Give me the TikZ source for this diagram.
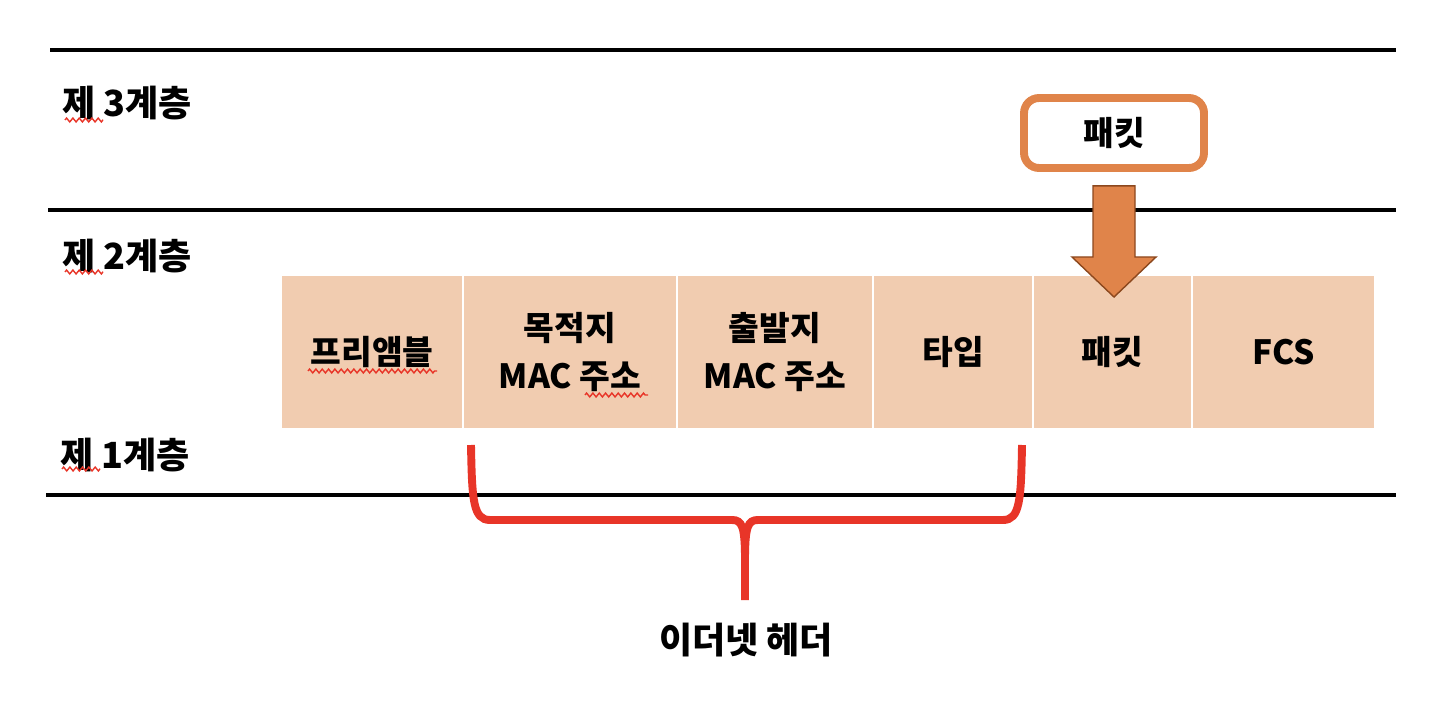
\documentclass[tikz,border=0pt]{standalone}
\definecolor{cellpeach}{RGB}{241, 204, 176}
\definecolor{pktorange}{RGB}{224, 132, 74}
\definecolor{arrowbrown}{RGB}{140, 72, 30}
\definecolor{bracered}{RGB}{232, 53, 40}
\usepackage{fontspec}
\setmainfont{Noto Sans CJK KR}[BoldFont={Noto Sans CJK KR Black}]
\usepackage{tikz}
\usetikzlibrary{calc, positioning, decorations.pathmorphing}
\tikzset{
	layerline/.style={line width=2.8pt},
	layertext/.style={anchor=west, font=\bfseries\fontsize{20.5}{24}\selectfont},
	celltext/.style={align=center, font=\bfseries\fontsize{19}{27}\selectfont},
	spellmark/.style={draw=bracered, line width=0.8pt, decorate,
		decoration={zigzag, amplitude=1.1pt, segment length=3.6pt}},
}

\begin{document}
\begin{tikzpicture}[x=0.02cm, y=-0.02cm]
			\useasboundingbox (0,0) rectangle (1452,712);
			\draw[layerline] (50,50) -- (1396,50);
			\draw[layerline] (48,210) -- (1396,210);
			\draw[layerline] (46,495) -- (1396,495);
			
			\node[layertext] (lthree) at (56,103) {제 3계층};
			\node[layertext] (ltwo) at (56,256) {제 2계층};
			\node[layertext] (lone) at (54,455) {제 1계층};
			
			\foreach \l/\r/\t/\n in {282/462/프리앰블/pre, 464/676/{목적지\\MAC 주소}/dst,
				678/872/{출발지\\MAC 주소}/src, 874/1032/타입/typ,
				1034/1191/패킷/pay, 1193/1374/FCS/fcs}{
				\fill[cellpeach] (\l,276) rectangle (\r,428);
				\node[celltext] (\n) at ({(\l+\r)/2},352) {\t};
			}
			
			\node[draw=pktorange, line width=4.5pt, rounded corners=0.3cm, fill=white,
				minimum width=3.6cm, minimum height=1.4cm, celltext] (pkt) at (1114,133) {패킷};
			
			\coordinate (atop) at ($(pkt.south)+(0,14)$);
			\coordinate (atip) at (1114,297);
			\filldraw[fill=pktorange, draw=arrowbrown, line width=0.8pt]
				($(atop)+(-21,0)$) -- ($(atop)+(21,0)$) -- ($(atip)+(21,-40)$) -- ($(atip)+(42,-40)$)
				-- (atip) -- ($(atip)+(-42,-40)$) -- ($(atip)+(-21,-40)$) -- cycle;
			
			\coordinate (hl) at (471,445);
			\coordinate (hr) at (1022,445);
			\coordinate (hm) at (745,600);
			\node[celltext, font=\bfseries\fontsize{20.5}{24}\selectfont] (eth) at (746,640) {이더넷 헤더};
			\draw[bracered, line width=4.5pt]
				(hl) .. controls (472,500) and (473,520) .. (490,520) -- (732,520)
				.. controls (742,520) and (745,526) .. (745,560) -- (hm);
			\draw[bracered, line width=4.5pt]
				(hr) .. controls (1021,500) and (1020,520) .. (1003,520) -- (758,520)
				.. controls (748,520) and (745,526) .. (745,560);
			
			\foreach \a/\b/\y in {65/103/120, 65/103/272, 62/100/469, 308/437/371, 585/648/395}
				\draw[spellmark] (\a,\y) -- (\b,\y);
		\end{tikzpicture}
\end{document}
